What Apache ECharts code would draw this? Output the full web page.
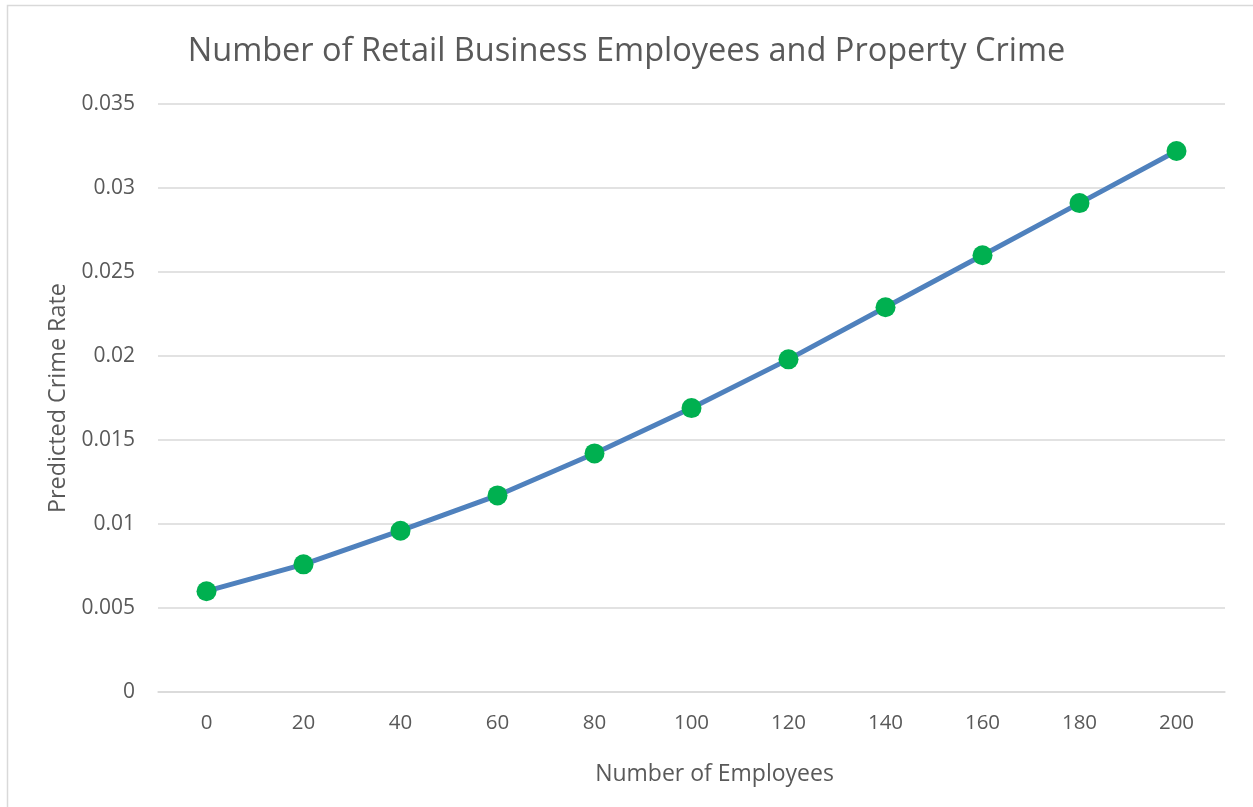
<!DOCTYPE html>
<html>
<head>
<meta charset="utf-8">
<script src="https://cdn.jsdelivr.net/npm/echarts@6/dist/echarts.min.js"></script>
<style>
  html, body { margin: 0; padding: 0; background: #fff; }
  #chart { width: 1253px; height: 807px; }
</style>
</head>
<body>
<div id="chart"></div>
<script>
// Number of employees (x categories) and the predicted property crime rate
const employees = ['0', '20', '40', '60', '80', '100', '120', '140', '160', '180', '200'];
const crimeRate = [0.0060, 0.0076, 0.0096, 0.0117, 0.0142, 0.0169, 0.0198, 0.0229, 0.0260, 0.0291, 0.0322];

const FONT = 'Open Sans';
const TEXT = '#595959';
const GRID = '#d9d9d9';

const chart = echarts.init(document.getElementById('chart'));
chart.setOption({
  animation: false,
  backgroundColor: '#ffffff',
  title: {
    text: 'Number of Retail Business Employees and Property Crime',
    left: 'center',
    top: 30,
    padding: [5, 0, 5, 18],
    textStyle: { fontFamily: FONT, fontSize: 32.5, fontWeight: 'normal', color: TEXT }
  },
  graphic: [{
    type: 'rect',
    shape: { x: 7.5, y: 5.5, width: 1300, height: 900 },
    style: { fill: 'none', stroke: GRID, lineWidth: 1.5 },
    silent: true
  }],
  grid: { left: 158, right: 28, top: 104, bottom: 115, containLabel: false },
  xAxis: {
    type: 'category',
    data: employees,
    boundaryGap: true,
    name: 'Number of Employees',
    nameLocation: 'middle',
    nameGap: 71,
    nameTextStyle: { fontFamily: FONT, fontSize: 23, color: TEXT, padding: [0, 0, 0, 46] },
    axisLine: { show: true, lineStyle: { color: GRID, width: 1.5 } },
    axisTick: { show: false },
    axisLabel: { fontFamily: FONT, fontSize: 20.5, color: TEXT, margin: 21 }
  },
  yAxis: {
    type: 'value',
    min: 0,
    max: 0.035,
    interval: 0.005,
    name: 'Predicted Crime Rate',
    nameLocation: 'middle',
    nameGap: 88,
    nameTextStyle: { fontFamily: FONT, fontSize: 23.4, color: TEXT },
    axisLine: { show: false },
    axisTick: { show: false },
    axisLabel: { fontFamily: FONT, fontSize: 21, color: TEXT, margin: 23 },
    splitLine: { lineStyle: { color: GRID, width: 1.5 } }
  },
  series: [{
    type: 'line',
    data: crimeRate,
    symbol: 'circle',
    symbolSize: 20,
    lineStyle: { color: '#4f81bd', width: 5 },
    itemStyle: { color: '#00b050' },
    z: 3
  }]
});
</script>
</body>
</html>
